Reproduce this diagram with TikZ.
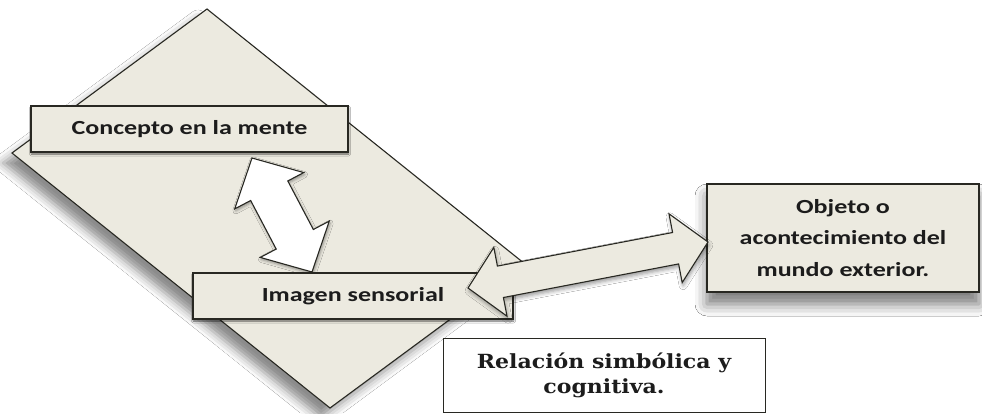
\documentclass[tikz,border=0pt]{standalone}
\usepackage{fontspec}
\usepackage{tikz}
\usetikzlibrary{calc,shadows.blur}
\newfontfamily\boxfont[FakeStretch=1.3]{Carlito}
\newfontfamily\slabfont[FakeStretch=1.13]{DejaVu Serif}
\definecolor{paper}{RGB}{236,234,224}
\definecolor{edge}{RGB}{40,40,34}
\definecolor{ink}{RGB}{28,28,28}
\newcommand{\dblarrow}[6][]{%
  \draw[#1] (#2) -- ($(#2)!#4!(#3)!#5!90:(#3)$) -- ($(#2)!#4!(#3)!#6!90:(#3)$)
    -- ($(#3)!#4!(#2)!#6!-90:(#2)$) -- ($(#3)!#4!(#2)!#5!-90:(#2)$) -- (#3)
    -- ($(#3)!#4!(#2)!#5!90:(#2)$) -- ($(#3)!#4!(#2)!#6!90:(#2)$)
    -- ($(#2)!#4!(#3)!#6!-90:(#3)$) -- ($(#2)!#4!(#3)!#5!-90:(#3)$) -- cycle;}

\begin{document}
\begin{tikzpicture}[x=1pt,y=-1pt,
		sheet/.style={draw=edge,line width=1.1pt,fill=paper,
			blur shadow={shadow xshift=-9pt,shadow yshift=-10pt,shadow blur radius=9pt,shadow opacity=45}},
		labelbox/.style={draw=edge,line width=1.1pt,fill=paper,inner sep=0pt,text=ink,align=center,
			font=\boxfont\bfseries\fontsize{20}{31.5}\selectfont,
			blur shadow={shadow xshift=0.5pt,shadow yshift=-2pt,shadow blur radius=2pt,shadow opacity=60}},
		notebox/.style={draw=edge,line width=0.9pt,fill=white,inner sep=0pt,text=ink,align=center,
			font=\slabfont\bfseries\fontsize{19.5}{25}\selectfont},
		whitearrow/.style={draw=edge,line width=1.1pt,fill=white,
			blur shadow={shadow xshift=1pt,shadow yshift=-2pt,shadow blur radius=3pt,shadow opacity=40}},
		paperarrow/.style={draw=edge,line width=1.1pt,fill=paper,
			blur shadow={shadow xshift=1pt,shadow yshift=-3pt,shadow blur radius=4pt,shadow opacity=40}}
		]
		\useasboundingbox[fill=white] (0,0) rectangle (982,413);

		\draw[sheet] (207,9) -- (525,264) -- (330,408) -- (12,153) -- cycle;

		\node[labelbox, minimum width=317pt, minimum height=46pt](mind) at (189.5,129){Concepto en la mente};
		\coordinate (mindTip) at (252,158);
		\coordinate (senseTop) at (312,272);
		\dblarrow[whitearrow]{mindTip}{senseTop}{37pt}{39pt}{21pt}

		\node[labelbox, minimum width=320pt, minimum height=46pt](sense) at (353,296){Imagen sensorial};
		\node[labelbox, minimum width=272pt, minimum height=108pt,
			blur shadow={shadow xshift=0pt,shadow yshift=-12pt,shadow blur radius=12pt,shadow opacity=30}]
			(world) at (843,238){Objeto o\\acontecimiento del\\mundo exterior.};
		\coordinate (senseTip) at (468,288);
		\coordinate (worldTip) at (708,242);
		\dblarrow[paperarrow]{senseTip}{worldTip}{33pt}{35pt}{16pt}

		\node[notebox, minimum width=322pt, minimum height=74pt](relation) at (604,375){Relación simbólica y\\cognitiva.};
	\end{tikzpicture}
\end{document}
